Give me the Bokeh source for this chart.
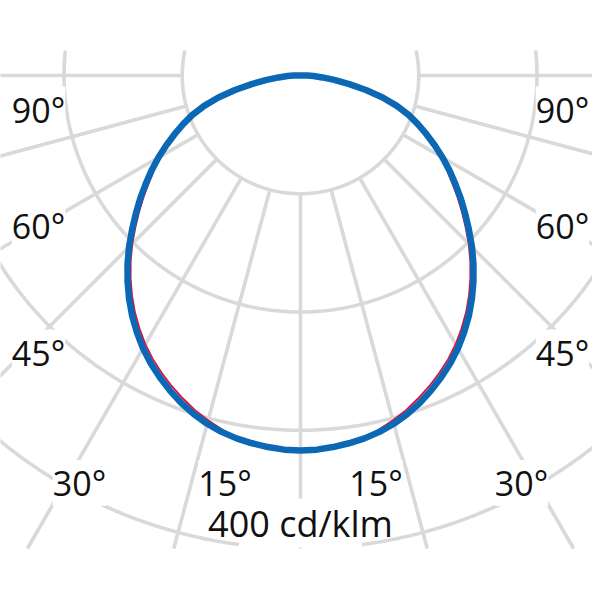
import numpy as np
from bokeh.plotting import figure
from bokeh.models import Range1d, Label
from bokeh.embed import file_html
from bokeh.resources import INLINE

# ---------------- data (cd/klm) ----------------
gamma_deg = [0, 2.5, 5, 7.5, 10, 12.5, 15, 17.5, 20, 22.5, 25, 27.5, 30, 32.5, 35, 37.5,
             40, 42.5, 45, 47.5, 50, 52.5, 55, 57.5, 60, 62.5, 65, 67.5, 70, 72.5, 75,
             77.5, 80, 82.5, 85, 87.5, 90]
intensity_c90 = [317.1, 316.7, 315.4, 313.7, 311.6, 308.7, 304.9, 300.2, 294.7, 288.4, 281.6,
                 274.4, 266.4, 257.5, 248.2, 238.1, 227.5, 216.5, 205.1, 193.2, 181.8, 170.8,
                 159.8, 149.3, 138.7, 128.1, 117.5, 107.4, 97.3, 85.4, 71.9, 56.7, 41.9,
                 28.8, 18.6, 11.0, 5.9]   # blue
intensity_c0 = [317.1, 316.7, 315.4, 313.2, 310.6, 306.7, 301.9, 296.7, 290.7, 284.4, 277.6,
                270.4, 262.4, 253.5, 244.2, 234.1, 223.5, 212.5, 201.1, 189.2, 177.8, 166.8,
                155.8, 146.3, 136.7, 127.1, 117.5, 108.9, 99.3, 87.4, 73.9, 58.2, 42.9,
                29.3, 18.6, 11.0, 5.9]    # red
ring_values = [100, 200, 300, 400]
spoke_angles = [0, 15, 30, 45, 60, 75, 90]
scale_label = "400 cd/klm"
side_labels = ["90°", "60°", "45°"]
bottom_labels = ["30°", "15°"]

# ---------------- layout ----------------
K = 473.0 / 400.0          # px per cd/klm
CX, CY = 300.0, 75.0       # pole position in px
TOP_CLIP = (CY - 50.0) / K
BOTTOM_CLIP = -400.0
W = H = 592

GRID = "#d9d9d9"
GRID_W = 3.6

p = figure(width=W, height=H, output_backend="svg", toolbar_location=None,
           x_range=Range1d((0 - CX) / K, (W - CX) / K),
           y_range=Range1d((CY - H) / K, (CY - 0) / K),
           min_border=0)
p.axis.visible = False
p.grid.visible = False
p.outline_line_color = None
p.background_fill_color = "white"
p.border_fill_color = "white"

# rings
xs, ys = [], []
xs_top, ys_top = [], []
for R in ring_values:
    tmax = np.arccos(max(-1.0, -TOP_CLIP / R))
    if R == ring_values[-1]:
        tgap = np.arcsin(52.0 / R)
        tmid = np.arcsin(150.0 / R)
        for a, b in [(-tmax, -tmid), (tmid, tmax)]:
            t = np.linspace(a, b, 300)
            xs.append(list(R * np.sin(t)))
            ys.append(list(-R * np.cos(t)))
        for a, b in [(-tmid, -tgap), (tgap, tmid)]:
            t = np.linspace(a, b, 100)
            xs_top.append(list(R * np.sin(t)))
            ys_top.append(list(-R * np.cos(t)))
    else:
        t = np.linspace(-tmax, tmax, 400)
        xs.append(list(R * np.sin(t)))
        ys.append(list(-R * np.cos(t)))

# spokes
r0 = ring_values[0]
for g in spoke_angles:
    gr = np.radians(g)
    r1 = min(-BOTTOM_CLIP / np.cos(gr), 700.0) if g < 90 else 700.0
    for s in ([1, -1] if g > 0 else [1]):
        xs.append([s * r0 * np.sin(gr), s * r1 * np.sin(gr)])
        ys.append([-r0 * np.cos(gr), -r1 * np.cos(gr)])

p.multi_line(xs, ys, line_color=GRID, line_width=GRID_W)
ring_top = p.multi_line(xs_top, ys_top, line_color=GRID, line_width=GRID_W)
ring_top.level = "overlay"


def curve(vals):
    g = np.radians(np.array(gamma_deg, dtype=float))
    v = np.array(vals, dtype=float)
    gg = np.concatenate([-g[::-1], g[1:]])
    vv = np.concatenate([v[::-1], v[1:]])
    x = list(vv * np.sin(gg)) + [0.0]
    y = list(-vv * np.cos(gg)) + [0.0]
    return [0.0] + x, [0.0] + y


xr, yr = curve(intensity_c0)
xb, yb = curve(intensity_c90)
p.line(xr, yr, line_color="#e0103c", line_width=1.8, line_join="round")
p.line(xb, yb, line_color="#0b68b4", line_width=6.5, line_join="round", line_cap="round")

FONT = "Open Sans"
BASE_SHIFT = 15.0   # renderer puts the alphabetic baseline this much lower


def add_label(px_x, px_base, text, size="34px"):
    lab = Label(x=(px_x - CX) / K, y=(CY - (px_base - BASE_SHIFT)) / K, text=text,
                text_font=FONT, text_font_size=size, text_color="#111111",
                text_align="center", text_baseline="alphabetic",
                background_fill_color="white", padding=0)
    p.add_layout(lab)


for t, yb_ in zip(side_labels, [124, 240, 367]):
    add_label(CX - 262, yb_, t)
    add_label(CX + 262, yb_, t)
for t, dx in zip(bottom_labels, [221, 75.5]):
    add_label(CX - dx, 497.5, t)
    add_label(CX + dx, 497.5, t)
add_label(CX, 537.5, scale_label, size="36px")

open("out.html", "w").write(file_html(p, INLINE))
